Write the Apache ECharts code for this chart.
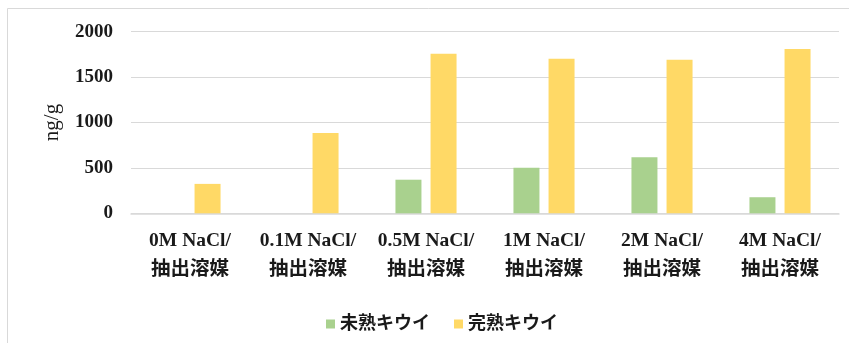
<!DOCTYPE html>
<html>
<head>
<meta charset="utf-8">
<script src="https://cdn.jsdelivr.net/npm/echarts@6/dist/echarts.min.js"></script>
<style>
html,body{margin:0;padding:0;background:#fff;}
#chart{width:849px;height:343px;}
</style>
</head>
<body>
<div id="chart"></div>
<script>
const categories = ['0M NaCl/\n抽出溶媒', '0.1M NaCl/\n抽出溶媒', '0.5M NaCl/\n抽出溶媒', '1M NaCl/\n抽出溶媒', '2M NaCl/\n抽出溶媒', '4M NaCl/\n抽出溶媒'];
const unripe = [0, 0, 370, 502, 617, 177];
const ripe = [324, 885, 1758, 1703, 1692, 1810];
const seriesNames = ['未熟キウイ', '完熟キウイ'];
const yTicks = [0, 500, 1000, 1500, 2000];

const FONT = "'Liberation Serif', 'Noto Sans CJK JP', serif";
const chart = echarts.init(document.getElementById('chart'));
chart.setOption({
  animation: false,
  backgroundColor: '#fff',
  graphic: [{
    type: 'rect', silent: true,
    shape: {x: 7.5, y: 8.5, width: 1000, height: 1000},
    style: {fill: 'none', stroke: '#d9d9d9', lineWidth: 1}
  }],
  grid: {left: 131, right: 10, top: 31.7, bottom: 129.7, containLabel: false},
  legend: {
    data: seriesNames,
    left: 321, top: 310,
    icon: 'rect', itemWidth: 9, itemHeight: 9, itemGap: 24,
    textStyle: {fontFamily: FONT, fontSize: 18, fontWeight: 'bold', color: '#1a1a1a'}
  },
  xAxis: {
    type: 'category',
    data: categories,
    axisTick: {show: false},
    axisLine: {lineStyle: {color: '#d9d9d9', width: 1.5}},
    axisLabel: {
      interval: 0, margin: 13, lineHeight: 29,
      fontFamily: FONT, fontSize: 19.5, fontWeight: 'bold', color: '#1a1a1a'
    }
  },
  yAxis: {
    type: 'value',
    min: yTicks[0], max: yTicks[yTicks.length - 1], interval: 500,
    name: 'ng/g', nameLocation: 'middle', nameGap: 68, nameRotate: 90,
    nameTextStyle: {fontFamily: FONT, fontSize: 21, color: '#1a1a1a', padding: [0, 0, 0, 0]},
    axisLine: {show: false}, axisTick: {show: false},
    splitLine: {lineStyle: {color: '#d9d9d9', width: 1.2}},
    axisLabel: {margin: 18, fontFamily: FONT, fontSize: 19, fontWeight: 'bold', color: '#1a1a1a',
      formatter: function (v) { return String(v); }}
  },
  series: [
    {name: seriesNames[0], type: 'bar', data: unripe, barWidth: 26, barGap: '35%', itemStyle: {color: '#A9D18E'}},
    {name: seriesNames[1], type: 'bar', data: ripe, barWidth: 26, barGap: '35%', itemStyle: {color: '#FFD966'}}
  ]
});
</script>
</body>
</html>
